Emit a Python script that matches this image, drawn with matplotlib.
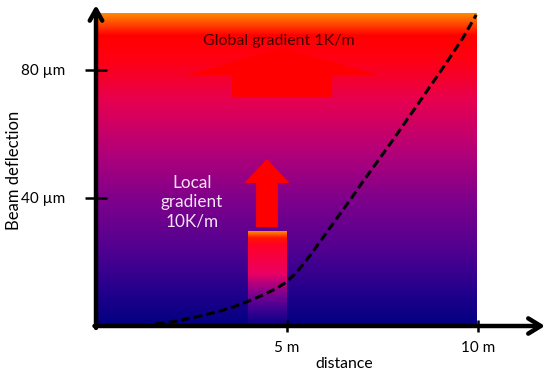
import numpy as np
import matplotlib
matplotlib.use("Agg")
import matplotlib.pyplot as plt
from matplotlib.colors import LinearSegmentedColormap
from matplotlib.patches import FancyArrow

plt.rcParams['font.family'] = ['Lato', 'DejaVu Sans']

# ---- data ----
distance_m = [0.9, 1.31, 2.0, 2.62, 3.2, 3.66, 4.0, 4.37, 4.7, 4.97, 5.24, 5.6,
              6.13, 6.65, 6.99, 7.45, 7.88, 8.3, 8.74, 9.2, 9.61, 9.95]
deflection_um = [0.0, 0.3, 1.3, 2.8, 4.5, 6.25, 7.8, 9.7, 11.6, 13.6, 16.6, 22.0,
                 30.8, 39.4, 45.2, 52.8, 60.0, 67.2, 74.8, 82.8, 90.2, 97.2]

x_ticks = [5, 10]
x_ticklabels = ['5 m', '10 m']
y_ticks = [40, 80]
y_ticklabels = ['40 µm', '80 µm']

x_label = 'distance'
y_label = 'Beam deflection'
global_text = 'Global gradient 1K/m'
local_text = 'Local\ngradient\n10K/m'

# regions
field_x = (0, 9.95)
field_top = 97.8
local_bar_x = (3.98, 5.0)
local_bar_top = 29.4

# ---- figure ----
W, H = 550, 375
fig = plt.figure(figsize=(W / 100, H / 100), dpi=100)
ax = fig.add_axes([96 / W, (H - 326) / H, (545 - 96) / W, (326 - 5) / H])
ax.set_xlim(0, 11.75)
ax.set_ylim(0, 100.3)
for s in ax.spines.values():
    s.set_visible(False)

# background gradient
bg_cmap = LinearSegmentedColormap.from_list('bg', [
    (0.00, (0/255, 0/255, 128/255)),
    (0.11, (35/255, 0, 140/255)),
    (0.24, (80/255, 0, 145/255)),
    (0.40, (125/255, 0, 140/255)),
    (0.56, (180/255, 0, 120/255)),
    (0.72, (230/255, 0, 80/255)),
    (0.85, (255/255, 0, 20/255)),
    (0.93, (255/255, 0, 0)),
    (1.00, (255/255, 135/255, 0)),
])
grad = np.linspace(0, 1, 256).reshape(-1, 1)
ax.imshow(grad, cmap=bg_cmap, origin='lower', aspect='auto',
          extent=(field_x[0], field_x[1], 0, field_top), zorder=1, interpolation='bilinear')

# local hot bar
bar_cmap = LinearSegmentedColormap.from_list('bar', [
    (0.00, (90/255, 0, 175/255, 0.12)),
    (0.25, (160/255, 0, 160/255, 0.5)),
    (0.55, (235/255, 0, 100/255, 1.0)),
    (0.85, (255/255, 0, 40/255, 1.0)),
    (0.93, (255/255, 20/255, 0, 1.0)),
    (1.00, (255/255, 140/255, 0, 1.0)),
])
ax.imshow(grad, cmap=bar_cmap, origin='lower', aspect='auto',
          extent=(local_bar_x[0], local_bar_x[1], 0, local_bar_top), zorder=2, interpolation='bilinear')

# arrows
ax.add_patch(FancyArrow(4.87, 71.6, 0, 15.3, width=2.62, head_width=5.03, head_length=8.5,
                        length_includes_head=True, color='#ff0000', lw=0, zorder=2))
ax.add_patch(FancyArrow(4.475, 30.9, 0, 21.3, width=0.57, head_width=1.18, head_length=7.5,
                        length_includes_head=True, color='#ff0000', lw=0, zorder=3))

# curve
ax.plot(distance_m, deflection_um, color='black', lw=2.2, linestyle=(0, (2.8, 1.4)), zorder=4,
        dash_capstyle='butt', dash_joinstyle='round')

# axes arrows
ax.annotate('', xy=(11.75, 0), xytext=(-0.04, 0), annotation_clip=False,
            arrowprops=dict(arrowstyle='->,head_length=0.9,head_width=0.55', lw=3.2, color='black',
                            shrinkA=0, shrinkB=0), zorder=5)
ax.annotate('', xy=(0, 100.3), xytext=(0, -0.6), annotation_clip=False,
            arrowprops=dict(arrowstyle='->,head_length=0.8,head_width=0.45', lw=3.2, color='black',
                            shrinkA=0, shrinkB=0), zorder=5)

# ticks
ax.set_xticks(x_ticks)
ax.set_xticklabels(x_ticklabels)
ax.set_yticks(y_ticks)
ax.set_yticklabels(y_ticklabels)
ax.tick_params(axis='x', direction='inout', length=9, width=1.8, pad=6, labelsize=11)
ax.tick_params(axis='y', direction='inout', length=16, width=1.8, pad=14, labelsize=11)

ax.set_xlabel(x_label, fontsize=11.3)
ax.xaxis.set_label_coords(0.552, -0.118)
ax.xaxis.label.set_va('center')
ax.set_ylabel(y_label, fontsize=12)
ax.yaxis.set_label_coords(-0.183, 0.486)
ax.yaxis.label.set_va('center')

# annotations
ax.text(2.80, 89.0, global_text, fontsize=11.5, color='#400000', ha='left', va='center', zorder=6)
ax.text(2.51, 38.75, local_text, fontsize=12.3, color='#f4e4f4', ha='center', va='center',
        linespacing=1.25, zorder=6)

fig.savefig('out.png', dpi=100)
